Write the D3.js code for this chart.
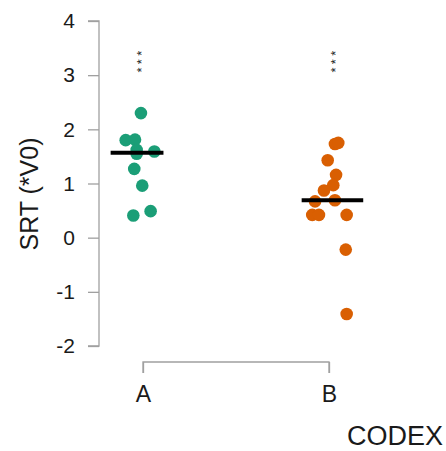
<!DOCTYPE html>
<html><head><meta charset="utf-8">
<script src="https://cdn.jsdelivr.net/npm/d3@7"></script>
<style>body{margin:0;background:#fff}svg{display:block}text{font-family:"Liberation Sans",Arial,sans-serif}</style>
</head><body>
<script>
const categories = ["A", "B"];
const colors = ["#1B9E77", "#D95F02"];
const valuesA = [2.30, 1.80, 1.81, 1.62, 1.59, 1.55, 1.27, 0.96, 0.41, 0.49];
const jitterA = [-0.011, -0.093, -0.043, -0.034, 0.061, -0.034, -0.047, -0.004, -0.052, 0.041];
const valuesB = [1.73, 1.75, 1.43, 1.16, 0.97, 0.87, 0.67, 0.69, 0.42, 0.42, 0.42, -0.22, -1.41];
const jitterB = [0.032, 0.050, -0.007, 0.038, 0.023, -0.027, -0.075, 0.032, -0.090, -0.054, 0.095, 0.090, 0.095];
const medianSpan = [[-0.174, 0.110], [-0.147, 0.184]];
const sigLabels = ["***", "***"];
const sigOffset = [-0.011, 0.032];
const yTicks = [-2, -1, 0, 1, 2, 3, 4];
const yLabel = "SRT (*V0)";
const xLabel = "CODEX";

const W = 446, H = 451;
const svg = d3.select("body").append("svg").attr("width", W).attr("height", H);
const y = d3.scaleLinear().domain([-2, 4]).range([346, 21]);
const x = d3.scaleLinear().domain([1, 2]).range([143, 329]);
const groups = [valuesA, valuesB];
const jitters = [jitterA, jitterB];

// y axis
const ya = svg.append("g").attr("transform", "translate(99,0)")
  .call(d3.axisLeft(y).tickValues(yTicks).tickSize(11).tickPadding(13).tickFormat(d => String(d)));
ya.select(".domain").attr("stroke", "#a0a0a0").attr("stroke-width", 1.3).attr("d", `M-11,${y(4)}H0V${y(-2)}H-11`);
ya.selectAll(".tick line").attr("stroke", "#a0a0a0").attr("stroke-width", 1.3);
ya.selectAll(".tick text").attr("font-size", 21).attr("fill", "#1a1a1a").attr("font-family", "Liberation Sans, Arial, sans-serif");

// x axis
const xa = svg.append("g").attr("transform", "translate(0,362)")
  .call(d3.axisBottom(x).tickValues([1, 2]).tickSize(11).tickPadding(13).tickFormat((d, i) => categories[i]));
xa.select(".domain").attr("stroke", "#a0a0a0").attr("stroke-width", 1.3).attr("d", `M${x(1)},11V0H${x(2)}V11`);
xa.selectAll(".tick line").attr("stroke", "#a0a0a0").attr("stroke-width", 1.3);
xa.selectAll(".tick text").attr("font-size", 23).attr("fill", "#1a1a1a").attr("font-family", "Liberation Sans, Arial, sans-serif");

// axis labels
svg.append("text").attr("transform", `translate(37.5,194) rotate(-90)`).attr("text-anchor", "middle")
  .attr("font-size", 25).attr("fill", "#1a1a1a").text(yLabel);
svg.append("text").attr("x", 443).attr("y", 445).attr("text-anchor", "end")
  .attr("font-size", 27).attr("fill", "#1a1a1a").text(xLabel);

// points
groups.forEach((vals, g) => {
  svg.append("g").selectAll("circle").data(vals).join("circle")
    .attr("cx", (d, i) => x(g + 1 + jitters[g][i]))
    .attr("cy", d => y(d))
    .attr("r", 6.3)
    .attr("fill", colors[g]);
});

// medians
groups.forEach((vals, g) => {
  const m = d3.median(vals);
  svg.append("line")
    .attr("x1", x(g + 1 + medianSpan[g][0])).attr("x2", x(g + 1 + medianSpan[g][1]))
    .attr("y1", y(m)).attr("y2", y(m))
    .attr("stroke", "#000").attr("stroke-width", 4);
});

// significance
sigLabels.forEach((s, g) => {
  svg.append("text")
    .attr("transform", `translate(${x(g + 1 + sigOffset[g]) + 5},${y(3.3) + 1}) rotate(-90)`)
    .attr("text-anchor", "middle").attr("font-size", 13).attr("letter-spacing", 3.4)
    .attr("fill", "#222").text(s);
});
</script>
</body></html>
